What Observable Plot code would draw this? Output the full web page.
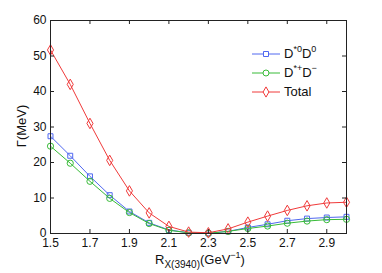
<!DOCTYPE html>
<html>
<head>
<meta charset="utf-8">
<script src="https://cdn.jsdelivr.net/npm/d3@7"></script>
<script src="https://cdn.jsdelivr.net/npm/@observablehq/plot@0.6"></script>
<style>
  body { margin: 0; background: #fff; }
  #wrap { position: relative; width: 382px; height: 273px; font-family: "Liberation Sans", Arial, sans-serif; color: #111; }
  #legend { position: absolute; left: 252px; top: 44px; font-size: 13px; }
  .row { display: flex; align-items: center; height: 19px; }
  .row svg { margin-right: 3px; }
  sup { font-size: 9px; vertical-align: 0; position: relative; top: -6px; }
  sub { font-size: 10px; vertical-align: 0; position: relative; top: 4px; }
  #xlab { position: absolute; left: 0; width: 400px; text-align: center; top: 252px; font-size: 13px; }
  #ylab { position: absolute; left: 21px; top: 126px; font-size: 13px; transform: translate(-50%, -50%) rotate(-90deg); white-space: nowrap; }
</style>
</head>
<body>
<div id="wrap">
  <div id="chart"></div>
  <div id="legend"></div>
  <div id="xlab">R<sub>X(3940)</sub>(GeV<sup>−1</sup>)</div>
  <div id="ylab">Γ(MeV)</div>
</div>
<script>
const R = [1.5, 1.6, 1.7, 1.8, 1.9, 2.0, 2.1, 2.2, 2.3, 2.4, 2.5, 2.6, 2.7, 2.8, 2.9, 3.0];
const dStar0D0 = [27.4, 21.9, 16.1, 10.8, 6.2, 3.0, 1.0, 0.2, 0.05, 0.6, 1.7, 2.6, 3.6, 4.2, 4.5, 4.7];
const dStarPlusDMinus = [24.6, 19.8, 14.7, 9.9, 5.9, 2.8, 0.9, 0.2, 0.05, 0.6, 1.4, 2.1, 2.9, 3.5, 3.9, 4.0];
const total = [51.7, 42.0, 31.0, 20.6, 12.0, 5.8, 2.0, 0.4, 0.2, 1.3, 3.2, 4.9, 6.5, 7.8, 8.6, 8.8];
const xTicks = [1.5, 1.7, 1.9, 2.1, 2.3, 2.5, 2.7, 2.9];
const yTicks = [0, 10, 20, 30, 40, 50, 60];

const seriesNames = ["D*0D0", "D*+D-", "Total"];
const seriesColors = ["#5068f0", "#38bb38", "#f03a3a"];
const seriesSymbols = ["square", "circle", "diamond"];
const seriesValues = [dStar0D0, dStarPlusDMinus, total];

const rows = seriesValues.flatMap((vals, i) => R.map((r, j) => ({ r, v: vals[j], s: seriesNames[i] })));

const W = 382, H = 273, mL = 50, mR = 36, mT = 20, mB = 40;
const pw = W - mL - mR, ph = H - mT - mB;

const marks = [];
seriesNames.forEach((name, i) => {
  const d = rows.filter(o => o.s === name);
  marks.push(Plot.line(d, { x: "r", y: "v", stroke: seriesColors[i], strokeWidth: 1 }));
  marks.push(Plot.dot(d, { x: "r", y: "v", stroke: seriesColors[i], fill: "none", symbol: seriesSymbols[i], r: i === 0 ? 2.8 : (i === 1 ? 3.1 : 3.2), strokeWidth: 1 }));
});

const chart = Plot.plot({
  width: W, height: H,
  marginLeft: mL, marginRight: mR, marginTop: mT, marginBottom: mB,
  style: { fontSize: "12px", fontFamily: "'Liberation Sans', Arial, sans-serif", color: "#111", background: "white" },
  x: { domain: [1.5, 3.0] },
  y: { domain: [0, 60] },
  marks: [
    ...marks,
    Plot.frame({ stroke: "#222", strokeWidth: 1 }),
    Plot.tickX(xTicks, { x: d => d, insetTop: ph - 4, stroke: "#222" }),
    Plot.tickX(xTicks, { x: d => d, insetBottom: ph - 4, stroke: "#222" }),
    Plot.tickY(yTicks, { y: d => d, insetRight: pw - 4, stroke: "#222" }),
    Plot.tickY(yTicks, { y: d => d, insetLeft: pw - 4, stroke: "#222" }),
    Plot.axisX({ ticks: xTicks, tickSize: 0, tickPadding: 5, tickFormat: d3.format(".1f"), label: null, fontSize: 12 }),
    Plot.axisY({ ticks: yTicks, tickSize: 0, tickPadding: 4, label: null, fontSize: 12 })
  ]
});
document.getElementById("chart").appendChild(chart);

// legend
const legendLabels = ["D<sup>*0</sup>D<sup>0</sup>", "D<sup>*</sup><sup>+</sup>D<sup>−</sup>", "Total"];
const leg = document.getElementById("legend");
seriesNames.forEach((name, i) => {
  const row = document.createElement("div");
  row.className = "row";
  const svg = d3.create("svg").attr("width", 29).attr("height", 12);
  svg.append("line").attr("x1", 0).attr("x2", 28).attr("y1", 6).attr("y2", 6).attr("stroke", seriesColors[i]);
  const symMap = { square: d3.symbolSquare, circle: d3.symbolCircle, diamond: d3.symbolDiamond };
  const sz = [25, 28, 30][i];
  svg.append("path").attr("transform", "translate(14,6)").attr("d", d3.symbol(symMap[seriesSymbols[i]], sz)()).attr("fill", "white").attr("stroke", seriesColors[i]);
  row.appendChild(svg.node());
  const t = document.createElement("span");
  t.innerHTML = legendLabels[i];
  row.appendChild(t);
  leg.appendChild(row);
});
</script>
</body>
</html>
